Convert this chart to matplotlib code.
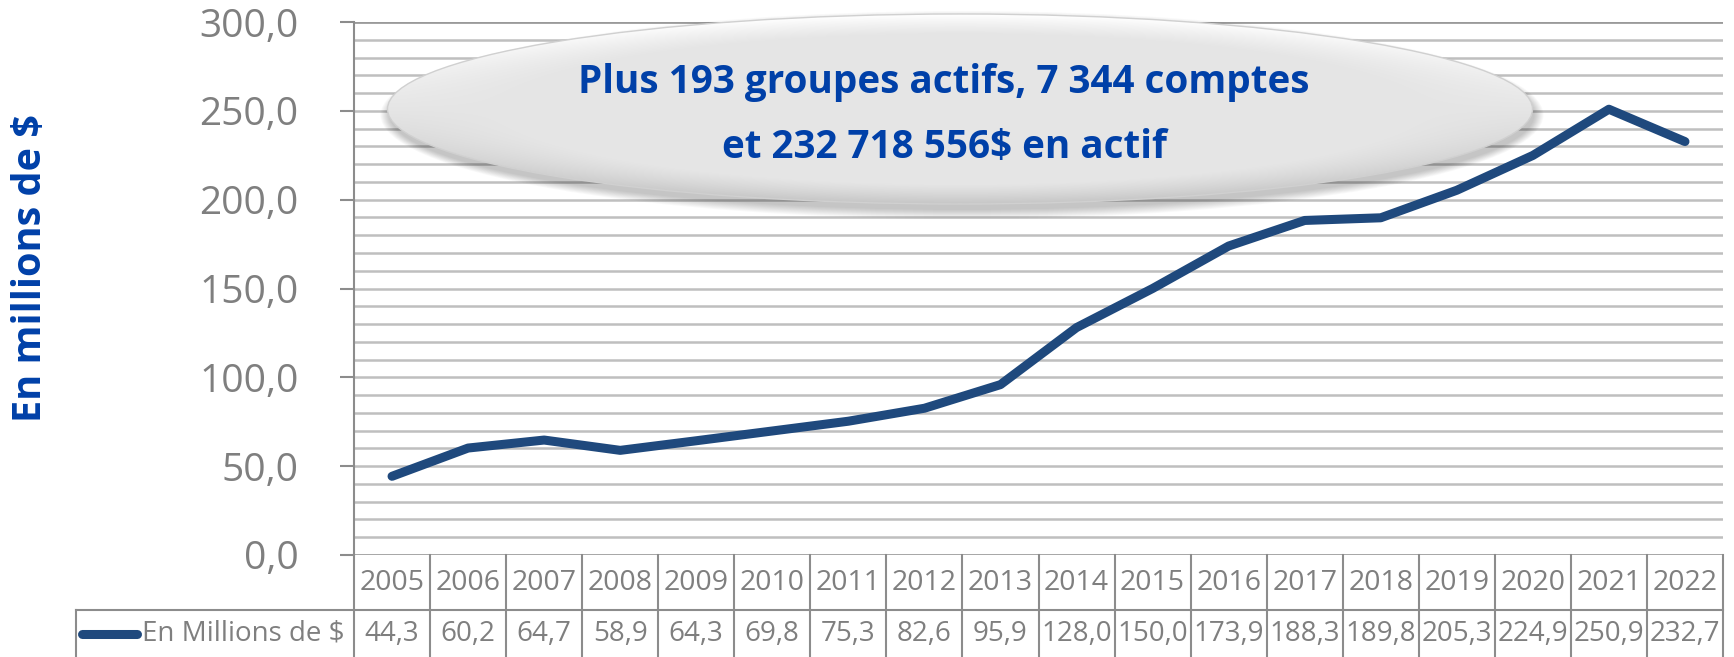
import matplotlib.pyplot as plt
import numpy as np
from matplotlib.patches import Ellipse

years = ["2005", "2006", "2007", "2008", "2009", "2010", "2011", "2012", "2013",
         "2014", "2015", "2016", "2017", "2018", "2019", "2020", "2021", "2022"]
values = [44.3, 60.2, 64.7, 58.9, 64.3, 69.8, 75.3, 82.6, 95.9,
          128.0, 150.0, 173.9, 188.3, 189.8, 205.3, 224.9, 250.9, 232.7]
series_name = "En Millions de $"
y_title = "En millions de $"
callout = ["Plus 193 groupes actifs, 7 344 comptes", "et 232 718 556$ en actif"]

W, H = 1734, 657
GRAY = "#7f7f7f"
LINE = "#8c8c8c"
BLUE_LINE = "#1f497d"
BLUE_TXT = "#0040a8"
FONT = "Open Sans"

def fmt(v):
    return ("%.1f" % v).replace(".", ",")

fig = plt.figure(figsize=(W / 100, H / 100), dpi=100)

# plot area in pixels
px_l, px_r, px_t, px_b = 354, 1723, 22, 555
ax = fig.add_axes([px_l / W, 1 - px_b / H, (px_r - px_l) / W, (px_b - px_t) / H])
x = np.arange(len(years))
ax.set_xlim(-0.5, len(years) - 0.5)
ax.set_ylim(0, 300)
for v in range(10, 301, 10):
    ax.axhline(v, color="#bfbfbf", lw=1.8, zorder=1)
ax.axhline(300, color="#9a9a9a", lw=1.8, zorder=1)
ax.plot(x, values, color=BLUE_LINE, lw=6.5, solid_capstyle="round",
        solid_joinstyle="round", zorder=5)
ax.set_yticks(range(0, 301, 50))
ax.set_yticklabels([fmt(v) for v in range(0, 301, 50)], fontsize=28,
                   color=GRAY, family=FONT)
ax.tick_params(axis="y", length=10, width=1.5, color=LINE, pad=30)
ax.set_xticks([])
for s in ["top", "right", "bottom"]:
    ax.spines[s].set_visible(False)
ax.spines["left"].set_color(LINE)
ax.spines["left"].set_linewidth(1.5)
ax.axhline(0, color=LINE, lw=1.8, zorder=2)

fig.text(31 / W, 1 - 268 / H, y_title, rotation=90, ha="center", va="center",
         fontsize=28.5, fontweight="bold", color=BLUE_TXT, family=FONT)

# overlay in pixel coordinates for the table and the callout
ov = fig.add_axes([0, 0, 1, 1], facecolor="none")
ov.set_xlim(0, W)
ov.set_ylim(H, 0)
ov.axis("off")

# data table
cw = (px_r - px_l) / len(years)
row_mid = 610
for i in range(len(years) + 1):
    xx = px_l + i * cw
    ov.plot([xx, xx], [px_b, H], color=LINE, lw=1.5)
ov.plot([76, px_r], [row_mid, row_mid], color=LINE, lw=1.5)
ov.plot([76, 76], [row_mid, H], color=LINE, lw=1.5)
for i, (yr, v) in enumerate(zip(years, values)):
    cx = px_l + (i + 0.5) * cw
    ov.text(cx, 583, yr, ha="center", va="center", fontsize=20.5, color=GRAY, family=FONT)
    ov.text(cx, 634, fmt(v), ha="center", va="center", fontsize=20, color=GRAY, family=FONT)
ov.plot([82, 137], [634, 634], color=BLUE_LINE, lw=6.5, solid_capstyle="round")
ov.text(142, 634, series_name, ha="left", va="center", fontsize=20, color=GRAY, family=FONT)

# callout ellipse with soft shadow and shaded rim
ecx, ecy, ew, eh = 960, 109, 1145, 190
for k in range(10):
    ov.add_patch(Ellipse((ecx + 2, ecy + 6), ew + 2 * k, eh + 2 * k,
                         facecolor="#000000", edgecolor="none", alpha=0.025, zorder=6))
gx = np.linspace(-1, 1, 400)
gy = np.linspace(-1, 1, 120)
GX, GY = np.meshgrid(gx, gy)
r = np.sqrt(GX ** 2 + GY ** 2)
shade = np.full(r.shape, 0.9)
rim = np.clip((r - 0.8) / 0.2, 0, 1)
shade = shade + rim * np.where(GY < 0, 0.1, -0.12) * np.abs(GY)
shade = np.clip(shade, 0, 1)
img = ov.imshow(np.dstack([shade] * 3), extent=(ecx - ew / 2, ecx + ew / 2, ecy + eh / 2, ecy - eh / 2),
                origin="upper", zorder=7, interpolation="bilinear", aspect="auto")
clip = Ellipse((ecx, ecy), ew, eh, facecolor="none", edgecolor="none", transform=ov.transData)
ov.add_patch(clip)
img.set_clip_path(clip)
ov.add_patch(Ellipse((ecx, ecy), ew, eh, facecolor="none", edgecolor="#d0d0d0", lw=1, zorder=8))
ov.set_xlim(0, W)
ov.set_ylim(H, 0)

ov.text(944, 83, callout[0], ha="center", va="center", fontsize=27.8, fontweight="bold",
        color=BLUE_TXT, family=FONT, zorder=9)
ov.text(944, 147, callout[1], ha="center", va="center", fontsize=27.8, fontweight="bold",
        color=BLUE_TXT, family=FONT, zorder=9)

fig.savefig("out.png", dpi=100)
